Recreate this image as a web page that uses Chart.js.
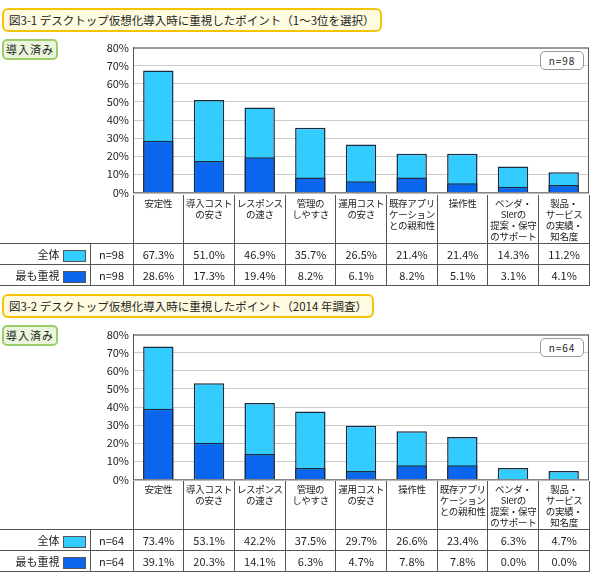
<!DOCTYPE html>
<html><head><meta charset="utf-8">
<script src="https://cdn.jsdelivr.net/npm/chart.js@4"></script>
<style>
body{margin:0;background:#fff;font-family:"Noto Sans CJK JP",sans-serif;color:#222;}
#wrap{position:relative;width:590px;height:580px;}
.title{position:absolute;left:2px;height:20px;border:2px solid #f5c400;border-radius:6px;background:#fffbe0;font-size:11.5px;line-height:20px;padding:0 5px;white-space:nowrap}
.badge{position:absolute;left:2px;width:52px;height:17px;border:2px solid #9ccf6a;border-radius:5px;background:#eaf6dc;font-size:11px;line-height:17px;text-align:center;letter-spacing:1px;white-space:nowrap}
.nbox{position:absolute;left:540px;width:42px;height:17px;border:1px solid #999;border-radius:5px;background:#fff;font-size:10px;line-height:17px;text-align:center;letter-spacing:1px}
canvas{position:absolute;left:0}
table{position:absolute;left:0;border-collapse:collapse;table-layout:fixed;font-size:10px}
td{padding:0;text-align:center;white-space:nowrap;overflow:hidden}
.lab td{height:48px}
.lab td.c{border-left:1px solid #555;border-right:1px solid #555;vertical-align:top;line-height:11px;padding-top:3px;height:45px;font-size:9.5px;letter-spacing:-0.3px}
.row td{border:1px solid #555;height:20px;font-size:11px}
.row td.h{text-align:right;padding-right:4px;border-left:none}
.sw{display:inline-block;width:21px;height:10px;border:1px solid #555;vertical-align:middle;margin-left:3px}
</style></head><body>
<div id="wrap">
<div class="title" style="top:8px">図3-1 デスクトップ仮想化導入時に重視したポイント（1～3位を選択）</div>
<div class="badge" style="top:39px">導入済み</div>
<canvas id="c1" width="590" height="166" style="top:37px;width:590px;height:166px"></canvas>
<div class="nbox" style="top:51px">n=98</div>
<table id="t1" style="top:195px"></table>

<div class="title" style="top:294px">図3-2 デスクトップ仮想化導入時に重視したポイント（2014 年調査）</div>
<div class="badge" style="top:325px">導入済み</div>
<canvas id="c2" width="590" height="166" style="top:324px;width:590px;height:166px"></canvas>
<div class="nbox" style="top:338px">n=64</div>
<table id="t2" style="top:481px"></table>
</div>
<script>
const categories1=["安定性","導入コスト\nの安さ","レスポンス\nの速さ","管理の\nしやすさ","運用コスト\nの安さ","既存アプリ\nケーション\nとの親和性","操作性","ベンダ・\nSIerの\n提案・保守\nのサポート","製品・\nサービス\nの実績・\n知名度"];
const all1=[67.3,51.0,46.9,35.7,26.5,21.4,21.4,14.3,11.2];
const top1=[28.6,17.3,19.4,8.2,6.1,8.2,5.1,3.1,4.1];
const categories2=["安定性","導入コスト\nの安さ","レスポンス\nの速さ","管理の\nしやすさ","運用コスト\nの安さ","操作性","既存アプリ\nケーション\nとの親和性","ベンダ・\nSIerの\n提案・保守\nのサポート","製品・\nサービス\nの実績・\n知名度"];
const all2=[73.4,53.1,42.2,37.5,29.7,26.6,23.4,6.3,4.7];
const top2=[39.1,20.3,14.1,6.3,4.7,7.8,7.8,0.0,0.0];
const yTicks=[0,10,20,30,40,50,60,70,80];
const n1="n=98", n2="n=64";
const LIGHT="#33ccff", DARK="#0a66ee";

function make(id,cats,a,t){
  new Chart(document.getElementById(id),{
    type:'bar',
    data:{labels:cats,datasets:[
      {label:"最も重視",data:t,backgroundColor:DARK,borderColor:"#1a2a40",borderWidth:1.5,grouped:false,order:1,barPercentage:0.6,categoryPercentage:1},
      {label:"全体",data:a,backgroundColor:LIGHT,borderColor:"#1a2a40",borderWidth:1.5,grouped:false,order:2,barPercentage:0.6,categoryPercentage:1}
    ]},
    options:{responsive:false,animation:false,
      layout:{padding:{top:0,bottom:0,right:1}},
      plugins:{legend:{display:false},tooltip:{enabled:false}},
      scales:{
        x:{display:false,grid:{display:false}},
        y:{min:0,max:80,afterFit:s=>{s.width=133;},
           afterBuildTicks:s=>{s.ticks=yTicks.map(v=>({value:v}));},
           ticks:{callback:v=>v+"%",color:"#222",font:{size:11,family:"Noto Sans CJK JP"},padding:4},
           grid:{color:"#ccc",drawTicks:false},
           border:{color:"#555",width:1}}
      }
    },
    plugins:[{id:'frame',afterDraw(c){const {ctx,chartArea:ca}=c;ctx.save();ctx.strokeStyle="#555";ctx.lineWidth=1;ctx.strokeRect(ca.left+0.5,ca.top+0.5,ca.right-ca.left-1,ca.bottom-ca.top);ctx.restore();}}]
  });
}
function table(id,cats,a,t,n){
  const el=document.getElementById(id);
  let h='<colgroup><col style="width:90px"><col style="width:43px">'+cats.map(()=>'<col style="width:50.7px">').join('')+'</colgroup>';
  h+='<tr class="lab"><td></td><td></td>'+cats.map(c=>'<td class="c">'+c.replace(/\n/g,'<br>')+'</td>').join('')+'</tr>';
  h+='<tr class="row"><td class="h">全体<span class="sw" style="background:'+LIGHT+'"></span></td><td>'+n+'</td>'+a.map(v=>'<td>'+v.toFixed(1)+'%</td>').join('')+'</tr>';
  h+='<tr class="row"><td class="h">最も重視<span class="sw" style="background:'+DARK+'"></span></td><td>'+n+'</td>'+t.map(v=>'<td>'+v.toFixed(1)+'%</td>').join('')+'</tr>';
  el.innerHTML=h;el.style.width="590px";
}
make('c1',categories1,all1,top1);make('c2',categories2,all2,top2);
table('t1',categories1,all1,top1,n1);table('t2',categories2,all2,top2,n2);
</script>
</body></html>
